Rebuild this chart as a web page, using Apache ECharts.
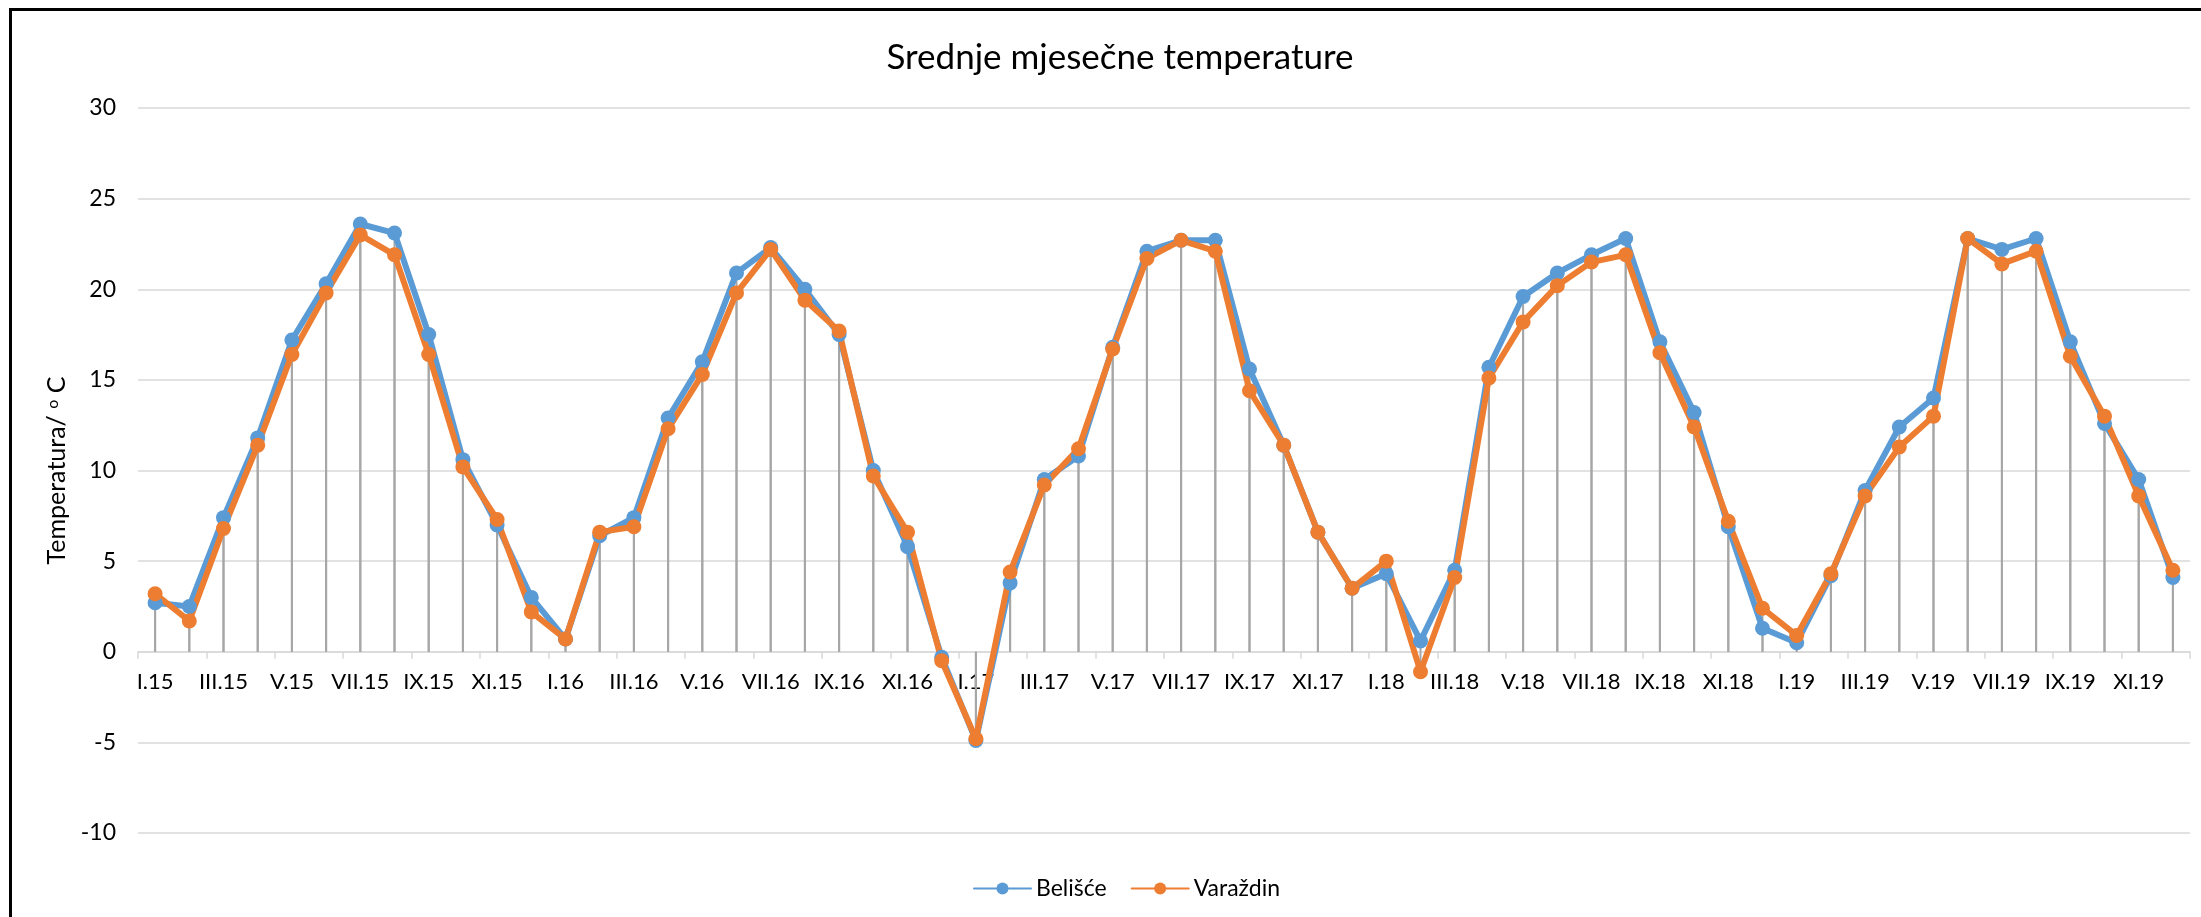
<!DOCTYPE html>
<html>
<head>
<meta charset="utf-8">
<script src="https://cdn.jsdelivr.net/npm/echarts@6/dist/echarts.min.js"></script>
<style>
html,body{margin:0;padding:0;background:#fff;}
#chart{width:2201px;height:917px;}
</style>
</head>
<body>
<div id="chart"></div>
<script>
const categories = [
  'I.15','II.15','III.15','IV.15','V.15','VI.15','VII.15','VIII.15','IX.15','X.15','XI.15','XII.15',
  'I.16','II.16','III.16','IV.16','V.16','VI.16','VII.16','VIII.16','IX.16','X.16','XI.16','XII.16',
  'I.17','II.17','III.17','IV.17','V.17','VI.17','VII.17','VIII.17','IX.17','X.17','XI.17','XII.17',
  'I.18','II.18','III.18','IV.18','V.18','VI.18','VII.18','VIII.18','IX.18','X.18','XI.18','XII.18',
  'I.19','II.19','III.19','IV.19','V.19','VI.19','VII.19','VIII.19','IX.19','X.19','XI.19','XII.19'
];
const belisce = [
  2.7, 2.5, 7.4, 11.8, 17.2, 20.3, 23.6, 23.1, 17.5, 10.6, 7.0, 3.0,
  0.7, 6.4, 7.4, 12.9, 16.0, 20.9, 22.3, 20.0, 17.5, 10.0, 5.8, -0.3,
  -4.9, 3.8, 9.5, 10.8, 16.8, 22.1, 22.7, 22.7, 15.6, 11.4, 6.6, 3.5,
  4.3, 0.6, 4.5, 15.7, 19.6, 20.9, 21.9, 22.8, 17.1, 13.2, 6.9, 1.3,
  0.5, 4.2, 8.9, 12.4, 14.0, 22.8, 22.2, 22.8, 17.1, 12.6, 9.5, 4.1
];
const varazdin = [
  3.2, 1.7, 6.8, 11.4, 16.4, 19.8, 23.0, 21.9, 16.4, 10.2, 7.3, 2.2,
  0.7, 6.6, 6.9, 12.3, 15.3, 19.8, 22.2, 19.4, 17.7, 9.7, 6.6, -0.5,
  -4.8, 4.4, 9.2, 11.2, 16.7, 21.7, 22.7, 22.1, 14.4, 11.4, 6.6, 3.5,
  5.0, -1.1, 4.1, 15.1, 18.2, 20.2, 21.5, 21.9, 16.5, 12.4, 7.2, 2.4,
  0.9, 4.3, 8.6, 11.3, 13.0, 22.8, 21.4, 22.1, 16.3, 13.0, 8.6, 4.5
];
const seriesNames = ['Belišće', 'Varaždin'];
const yTicks = { min: -10, max: 30, step: 5 };

const FONT = 'Lato';
const GRID = {left: 138, right: 11, top: 108, bottom: 84};
const plotH = 917 - GRID.top - GRID.bottom;
// distance from the grid's bottom edge up to the value 0
const zeroOffset = plotH * (0 - yTicks.min) / (yTicks.max - yTicks.min);

const chart = echarts.init(document.getElementById('chart'), null, {renderer: 'canvas'});
const dropLine = (name, data) => ({
  type: 'bar', name: name + '_drop', data: data, barWidth: 2, barGap: '-100%',
  itemStyle: {color: '#A6A6A6'}, silent: true, z: 1, legendHoverLink: false
});
const line = (name, data, color) => ({
  type: 'line', name: name, data: data, symbol: 'circle', symbolSize: 15,
  showSymbol: true, lineStyle: {width: 6, color: color, join: 'round', cap: 'round'},
  itemStyle: {color: color}, z: 3
});
chart.setOption({
  animation: false,
  backgroundColor: '#fff',
  title: {
    text: 'Srednje mjesečne temperature', left: 1115, textAlign: 'center', top: 35,
    textStyle: {fontFamily: FONT, fontSize: 35, fontWeight: 'normal', color: '#000'}
  },
  legend: {
    data: seriesNames, left: 968, top: 872, itemWidth: 57, itemHeight: 15, itemGap: 24,
    textStyle: {fontFamily: FONT, fontSize: 23, color: '#000'}
  },
  grid: Object.assign({containLabel: false}, GRID),
  xAxis: {
    type: 'category', data: categories, boundaryGap: true, offset: -zeroOffset,
    axisLine: {onZero: false, lineStyle: {color: '#D9D9D9', width: 1.5}},
    axisTick: {show: true, interval: 1, length: 7, lineStyle: {color: '#D9D9D9', width: 1.5}},
    axisLabel: {interval: 1, margin: 19, fontSize: 22, color: '#000', fontFamily: FONT},
    splitLine: {show: false}
  },
  yAxis: {
    type: 'value', min: yTicks.min, max: yTicks.max, interval: yTicks.step,
    name: 'Temperatura/ {sup|o} C', nameLocation: 'middle', nameGap: 66, nameRotate: 90,
    nameTextStyle: {fontFamily: FONT, fontSize: 25, color: '#000',
      rich: {sup: {fontFamily: FONT, fontSize: 16, color: '#000', padding: [0, 0, 10, 0]}}},
    axisLine: {show: false}, axisTick: {show: false},
    axisLabel: {margin: 22, fontSize: 23, color: '#000', fontFamily: FONT},
    splitLine: {lineStyle: {color: '#D9D9D9', width: 1.5}}
  },
  graphic: [{
    type: 'rect', silent: true, z: 100,
    shape: {x: 10.5, y: 9.5, width: 2400, height: 1200},
    style: {fill: 'none', stroke: '#000', lineWidth: 3}
  }],
  series: [
    dropLine(seriesNames[0], belisce),
    dropLine(seriesNames[1], varazdin),
    line(seriesNames[0], belisce, '#5B9BD5'),
    line(seriesNames[1], varazdin, '#ED7D31')
  ]
});
</script>
</body>
</html>
